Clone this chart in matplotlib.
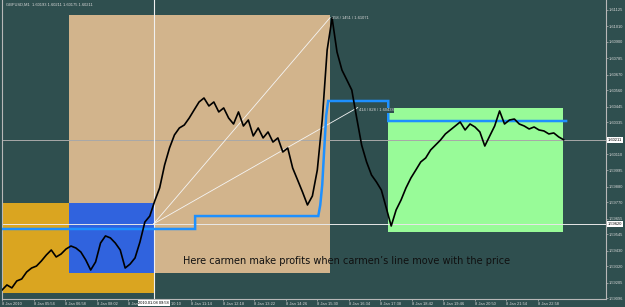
"""plot.py: GBPUSD M1 chart with carmen's line"""
import numpy as np
import matplotlib
matplotlib.use("Agg")
from matplotlib import pyplot as plt
from matplotlib import font_manager
from matplotlib.patches import Rectangle
import matplotlib.transforms as mtransforms

BG = "#2F4F4F"
FG = "#D8D8D8"

_names = set(f.name for f in font_manager.fontManager.ttflist)
if "Liberation Sans Narrow" in _names:
    SMALL = dict(family="Liberation Sans Narrow", fontsize=3.4)
else:
    SMALL = dict(family="Liberation Sans", fontsize=2.9)

# close price, one value every 10 minutes from 04:50 (minute 290 of the day)
start_min = 290
step_min = 10
close = [
    1.59153, 1.59189, 1.59168, 1.59217, 1.59231, 1.59280, 1.59308, 1.59322, 1.59358, 1.59400,
    1.59435, 1.59386, 1.59407, 1.59442, 1.59463, 1.59449, 1.59421, 1.59365, 1.59294, 1.59351,
    1.59484, 1.59534, 1.59520, 1.59484, 1.59435, 1.59308, 1.59336, 1.59379, 1.59491, 1.59632,
    1.59674, 1.59780, 1.59872, 1.60033, 1.60153, 1.60245, 1.60294, 1.60315, 1.60364, 1.60421,
    1.60477, 1.60505, 1.60449, 1.60477, 1.60407, 1.60435, 1.60364, 1.60322, 1.60407, 1.60308,
    1.60350, 1.60238, 1.60294, 1.60224, 1.60266, 1.60195, 1.60224, 1.60125, 1.60153, 1.60012,
    1.59928, 1.59843, 1.59752, 1.59815, 1.59998, 1.60350, 1.60843, 1.61068, 1.60829, 1.60702,
    1.60632, 1.60561, 1.60364, 1.60174, 1.60055, 1.59963, 1.59914, 1.59857, 1.59731, 1.59604,
    1.59717, 1.59787, 1.59872, 1.59942, 1.59998, 1.60055, 1.60083, 1.60139, 1.60174, 1.60209,
    1.60252, 1.60280, 1.60308, 1.60336, 1.60280, 1.60322, 1.60301, 1.60266, 1.60167, 1.60238,
    1.60308, 1.60414, 1.60322, 1.60350, 1.60357, 1.60322, 1.60308, 1.60287, 1.60301, 1.60280,
    1.60273, 1.60252, 1.60259, 1.60231, 1.60211,
]

# carmen's line (minute of day, price)
carmen_t = [290, 682, 682, 932, 936, 940, 944, 948, 952, 1074, 1074, 1435]
carmen_p = [1.59583, 1.59583, 1.59674, 1.59674, 1.59752, 1.59893, 1.60140, 1.60380,
            1.60484, 1.60484, 1.60343, 1.60343]

# session boxes
box_t0 = [290, 425, 425, 1074]
box_t1 = [598, 956, 598, 1429]
box_lo = [1.59132, 1.59270, 1.59270, 1.59564]
box_hi = [1.59766, 1.61089, 1.59766, 1.60433]
box_col = ["#DAA520", "#D2B48C", "#3063DE", "#98FB98"]

# crosshair and measuring lines
cross_t = 598
cross_p = 1.59620
cross_lbl = "2010.01.08 09:58"
bid = 1.60211
meas_t = [956, 1012]
meas_p = [1.61071, 1.60438]
meas_lbl = ["358 / 1451 / 1.61071", "414 / 828 / 1.60438"]

title = "GBPUSD,M1  1.60193 1.60211 1.60175 1.60211"
note = "Here carmen make profits when carmen\u2019s line move with the price"
note_t, note_p = 658, 1.59358

xtick_min = [290, 354, 418, 482, 546, 610, 674, 738, 802, 866, 930, 994,
             1058, 1122, 1186, 1250, 1314, 1378]
xtick_lbl = ["8 Jan 2010", "8 Jan 05:54", "8 Jan 06:58", "8 Jan 08:02", "8 Jan 09:06",
             "8 Jan 10:10", "8 Jan 11:14", "8 Jan 12:18", "8 Jan 13:22", "8 Jan 14:26",
             "8 Jan 15:30", "8 Jan 16:34", "8 Jan 17:38", "8 Jan 18:42", "8 Jan 19:46",
             "8 Jan 20:50", "8 Jan 21:54", "8 Jan 22:58"]
# 1.60220 sits under the bid label, so it is left out
ytick_vals = [1.61125, 1.61010, 1.60900, 1.60785, 1.60670, 1.60560, 1.60445, 1.60335,
              1.60110, 1.59995, 1.59880, 1.59770, 1.59655, 1.59545, 1.59430,
              1.59320, 1.59205, 1.59096]


def main():
    fig = plt.figure(figsize=(6.25, 3.07), dpi=100, facecolor=BG)
    ax = fig.add_axes([2 / 625, 8 / 307, 604 / 625, 299 / 307])
    ax.set_facecolor(BG)
    ax.set_xlim(290, 1516)
    ax.set_ylim(1.59090, 1.61195)

    for t0, t1, lo, hi, c in zip(box_t0, box_t1, box_lo, box_hi, box_col):
        ax.add_patch(Rectangle((t0, lo), t1 - t0, hi - lo, facecolor=c,
                               edgecolor="none", zorder=1))

    # bid line and crosshair
    ax.axhline(bid, color="#A8A8A8", lw=0.7, zorder=2)
    ax.axhline(cross_p, color="#E8E8E8", lw=0.7, zorder=2)
    ax.axvline(cross_t, color="#F0F0F0", lw=0.8, zorder=2)

    for t, p in zip(meas_t, meas_p):
        ax.plot([cross_t, t], [cross_p, p], color="#F5F5F5", lw=0.6, zorder=2)
    ax.text(meas_t[0] + 3, meas_p[0] - 0.00001, meas_lbl[0], color=FG,
            ha="left", va="center", zorder=6, **SMALL)
    ax.text(meas_t[1] + 2, meas_p[1] - 0.00020, meas_lbl[1], color=FG,
            ha="left", va="center", zorder=6,
            bbox=dict(facecolor=BG, edgecolor="none", pad=0.3), **SMALL)

    ax.plot(carmen_t, carmen_p, color="#1E90FF", lw=1.8, zorder=3,
            solid_joinstyle="miter")

    times = start_min + step_min * np.arange(len(close))
    ax.plot(times, close, color="black", lw=1.2, zorder=4)

    ax.text(note_t, note_p, note, fontsize=7.0, color="#101010", ha="left",
            va="center", zorder=5)
    ax.text(0.006, 0.985, title, transform=ax.transAxes, color=FG,
            ha="left", va="center", **SMALL)

    # axes, MT4 style
    for s in ("left", "right", "bottom"):
        ax.spines[s].set_color("#B8B8B8")
        ax.spines[s].set_linewidth(0.8)
    ax.spines["top"].set_visible(False)

    ax.yaxis.tick_right()
    ax.set_yticks(ytick_vals)
    ax.set_yticklabels(["%.5f" % v for v in ytick_vals])
    ax.set_xticks(xtick_min)
    ax.set_xticklabels(xtick_lbl)
    for lbl in ax.get_xticklabels() + ax.get_yticklabels():
        lbl.set_fontfamily(SMALL["family"])
    for lbl in ax.get_xticklabels():
        lbl.set_ha("left")
    ax.tick_params(axis="both", colors="#B8B8B8", labelcolor=FG,
                   labelsize=SMALL["fontsize"], length=1.5, width=0.5, pad=0.8)

    tx = mtransforms.blended_transform_factory(ax.transData, ax.transAxes)
    ax.text(cross_t, -0.006, cross_lbl, transform=tx, color="black",
            ha="center", va="top", zorder=10, clip_on=False,
            bbox=dict(facecolor="white", edgecolor="none", pad=0.6), **SMALL)
    ty = mtransforms.blended_transform_factory(ax.transAxes, ax.transData)
    for p in (bid, cross_p):
        ax.text(1.003, p, "%.5f" % p, transform=ty, color="black",
                ha="left", va="center", zorder=10, clip_on=False,
                bbox=dict(facecolor="white", edgecolor="none", pad=0.6), **SMALL)

    fig.savefig("out.png", dpi=100, facecolor=BG)


if __name__ == "__main__":
    main()
